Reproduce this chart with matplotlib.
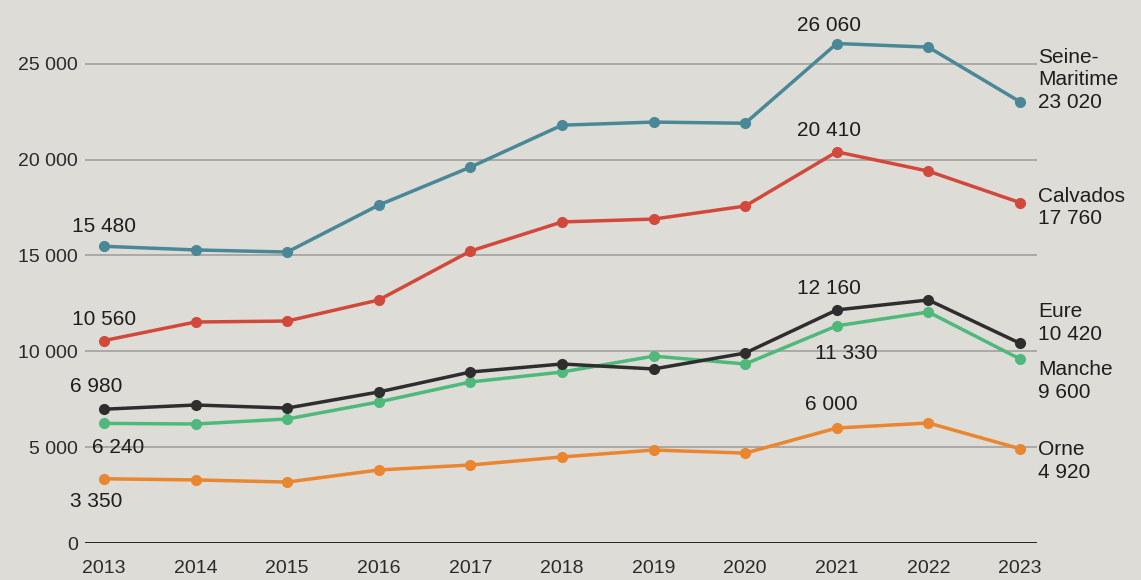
import matplotlib
matplotlib.use("Agg")
import matplotlib.pyplot as plt

plt.rcParams['font.family'] = ['Liberation Sans', 'DejaVu Sans']

years = list(range(2013, 2024))

seine_maritime = [15480, 15290, 15180, 17630, 19610, 21800, 21960, 21900, 26060, 25870, 23020]
calvados = [10560, 11530, 11580, 12680, 15230, 16750, 16900, 17580, 20410, 19400, 17760]
manche = [6240, 6210, 6470, 7360, 8400, 8920, 9750, 9340, 11330, 12050, 9600]
eure = [6980, 7200, 7040, 7880, 8920, 9340, 9080, 9910, 12160, 12680, 10420]
orne = [3350, 3290, 3180, 3810, 4070, 4490, 4850, 4690, 6000, 6260, 4920]

names = ["Seine-\nMaritime", "Calvados", "Manche", "Eure", "Orne"]
series = [seine_maritime, calvados, manche, eure, orne]
colors = ["#4a8797", "#d2493c", "#4fb97c", "#2e2e2e", "#ea8530"]

yticks = [0, 5000, 10000, 15000, 20000, 25000]

def fmt(v):
    return f"{v:,}".replace(",", " ")

bg = "#dddcd7"
fig = plt.figure(figsize=(11.41, 5.80), dpi=100, facecolor=bg)
ax = fig.add_axes([85 / 1141, 37 / 580, 952 / 1141, 543 / 580])
ax.set_facecolor(bg)

for s, c in zip(series, colors):
    ax.plot(years, s, color=c, lw=2.5, marker="o", ms=7, zorder=3)

ax.set_xlim(2013 - 19 / 91.6, 2023 + 17 / 91.6)
ax.set_ylim(0, 28330)
ax.set_yticks(yticks)
ax.set_yticklabels([fmt(v) for v in yticks])
ax.set_xticks(years)
ax.tick_params(axis="both", length=0, labelsize=14, colors="#2a2a2a")
ax.tick_params(axis="y", pad=5)
ax.tick_params(axis="x", pad=12)

for v in yticks[1:]:
    ax.axhline(v, color="#9c9c9a", lw=1.1, zorder=1)
ax.axhline(0, color="#111111", lw=2, zorder=2)

for sp in ax.spines.values():
    sp.set_visible(False)

# value labels: (series, year index, pixel offset)
labels = [
    (seine_maritime, 0, (-32, 20)),
    (calvados, 0, (-32, 21)),
    (eure, 0, (-34, 23)),
    (manche, 0, (-12, -24)),
    (orne, 0, (-34, -23)),
    (seine_maritime, 8, (-40, 18)),
    (calvados, 8, (-40, 21)),
    (eure, 8, (-40, 21)),
    (manche, 8, (-22, -28)),
    (orne, 8, (-32, 23)),
]
for s, i, off in labels:
    ax.annotate(fmt(s[i]), (years[i], s[i]), xytext=off, textcoords="offset pixels",
                ha="left", va="center", fontsize=15, color="#1e1e1e", annotation_clip=False)

# end labels
end_offsets = [22, -5, -22, 20, -12]
for name, s, off in zip(names, series, end_offsets):
    ax.annotate(name + "\n" + fmt(s[-1]), (years[-1], s[-1]), xytext=(18, off),
                textcoords="offset pixels", ha="left", va="center", fontsize=15,
                color="#1e1e1e", linespacing=1.25, annotation_clip=False)

fig.savefig("out.png", dpi=100, facecolor=bg)
